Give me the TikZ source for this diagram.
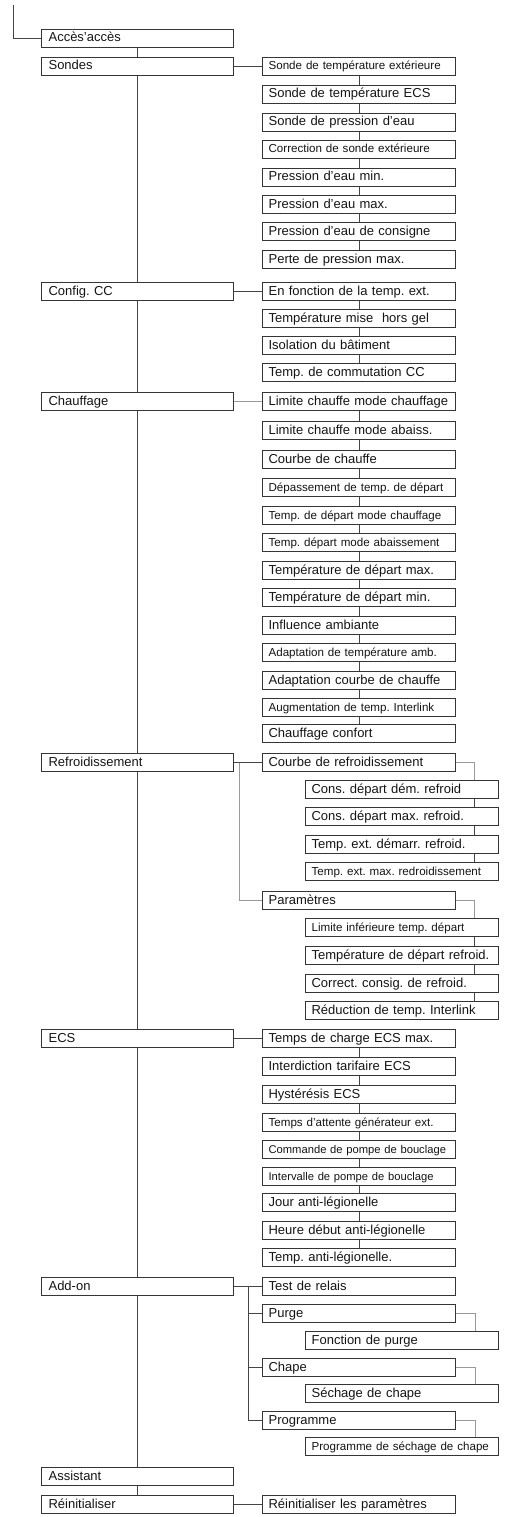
\documentclass[tikz,border=0pt]{standalone}
\usepackage{fontspec}
\setmainfont{Liberation Sans}
\usetikzlibrary{calc}
\definecolor{boxgray}{HTML}{353535}
\definecolor{linkgray}{HTML}{454545}
\definecolor{paleline}{HTML}{999999}
\definecolor{textgray}{HTML}{141414}
\frenchspacing

\begin{document}
\begin{tikzpicture}[x=1pt,y=-1pt,
  menubox/.style={draw=boxgray, line width=1.2pt, anchor=north west, minimum height=18pt,
    inner ysep=0pt, text height=9.6pt, text depth=2.8pt, align=left, text=textgray,
    font=\fontsize{13}{13}\selectfont},
  lbox/.style={menubox, inner xsep=7pt, text width=178pt},
  rbox/.style={menubox, inner xsep=6pt, text width=181pt},
  sbox/.style={rbox, font=\fontsize{11.6}{12}\selectfont},
  xsbox/.style={rbox, font=\fontsize{11.2}{12}\selectfont},
  link/.style={draw=linkgray, line width=0.9pt},
  pale/.style={draw=paleline, line width=0.9pt}]
\useasboundingbox (0,0) rectangle (506,1517);
% main menu
\foreach \y/\n/\l in {29/acces/Accès'accès, 57/sondes/Sondes, 282/config/Config. CC, 392/chauffage/Chauffage,
  753/refroid/Refroidissement, 1029/ecs/ECS, 1277/addon/Add-on, 1467/assistant/Assistant, 1495/reinit/Réinitialiser}
  \node[lbox] (\n) at (41,\y) {\l};
% sondes
\foreach \y/\s/\l [count=\i] in {57/sbox/Sonde de température extérieure, 85/rbox/Sonde de température ECS,
  113/rbox/Sonde de pression d'eau, 140/sbox/Correction de sonde extérieure, 168/rbox/Pression d'eau min.,
  195/rbox/Pression d'eau max., 222/rbox/Pression d'eau de consigne, 250/rbox/Perte de pression max.}
  \node[\s] (so\i) at (262,\y) {\l};
% config CC
\foreach \y/\l [count=\i] in {282/En fonction de la temp. ext., 309/Température mise~ hors gel,
  336/Isolation du bâtiment, 363/Temp. de commutation CC}
  \node[rbox] (cf\i) at (262,\y) {\l};
% chauffage
\foreach \y/\s/\l [count=\i] in {392/rbox/Limite chauffe mode chauffage, 421/rbox/Limite chauffe mode abaiss.,
  450/rbox/Courbe de chauffe, 478/sbox/Dépassement de temp. de départ, 506/sbox/Temp. de départ mode chauffage,
  533/sbox/Temp. départ mode abaissement, 561/rbox/Température de départ max., 588/rbox/Température de départ min.,
  616/rbox/Influence ambiante, 643/sbox/Adaptation de température amb., 671/rbox/Adaptation courbe de chauffe,
  698/sbox/Augmentation de temp. Interlink, 724/rbox/Chauffage confort}
  \node[\s] (ch\i) at (262,\y) {\l};
% refroidissement
\node[rbox] (courbe) at (262,753) {Courbe de refroidissement};
\foreach \y/\s/\l [count=\i] in {780/rbox/Cons. départ dém. refroid, 807/rbox/Cons. départ max. refroid.,
  835/rbox/Temp. ext. démarr. refroid., 862/sbox/Temp. ext. max. redroidissement}
  \node[\s] (cr\i) at (305,\y) {\l};
\node[rbox] (param) at (262,891) {Paramètres};
\foreach \y/\s/\l [count=\i] in {918/sbox/Limite inférieure temp. départ, 946/rbox/Température de départ refroid.,
  974/rbox/Correct. consig. de refroid., 1001/rbox/Réduction de temp. Interlink}
  \node[\s] (pa\i) at (305,\y) {\l};
% ECS
\foreach \y/\s/\l [count=\i] in {1029/rbox/Temps de charge ECS max., 1057/rbox/Interdiction tarifaire ECS,
  1085/rbox/Hystérésis ECS, 1113/sbox/Temps d'attente générateur ext., 1140/xsbox/Commande de pompe de bouclage,
  1167/xsbox/Intervalle de pompe de bouclage, 1193/rbox/Jour anti-légionelle, 1221/rbox/Heure début anti-légionelle,
  1248/rbox/Temp. anti-légionelle.}
  \node[\s] (ec\i) at (262,\y) {\l};
% add-on
\node[rbox] (test) at (262,1277) {Test de relais};
\node[rbox] (purge) at (262,1304) {Purge};
\node[rbox] (fpurge) at (305,1331) {Fonction de purge};
\node[rbox] (chape) at (262,1358) {Chape};
\node[rbox] (schape) at (305,1384) {Séchage de chape};
\node[rbox] (prog) at (262,1411) {Programme};
\node[sbox] (sprog) at (305,1437) {Programme de séchage de chape};
% reinitialiser
\node[rbox] (rp) at (262,1495) {Réinitialiser les paramètres};

% trunk
\coordinate (root) at (13,5);
\draw[link] (root) |- (acces.west);
\foreach \a/\b in {acces/sondes, sondes/config, config/chauffage, chauffage/refroid, refroid/ecs, ecs/addon,
  addon/assistant, assistant/reinit}
  \draw[link] (\a.south) -- (\b.north);
% chains
\foreach \i [evaluate=\i as \j using int(\i+1)] in {1,...,7} \draw[link] (so\i.south) -- (so\j.north);
\foreach \i [evaluate=\i as \j using int(\i+1)] in {1,2,3} \draw[link] (cf\i.south) -- (cf\j.north);
\foreach \i [evaluate=\i as \j using int(\i+1)] in {1,...,12} \draw[link] (ch\i.south) -- (ch\j.north);
\foreach \i [evaluate=\i as \j using int(\i+1)] in {1,...,8} \draw[link] (ec\i.south) -- (ec\j.north);
\foreach \i [evaluate=\i as \j using int(\i+1)] in {1,2,3} {
  \draw[link] ([xshift=-25pt]cr\i.south east) -- ([xshift=-25pt]cr\j.north east);
  \draw[link] ([xshift=-25pt]pa\i.south east) -- ([xshift=-25pt]pa\j.north east);
}
% branches
\draw[link] (sondes.east) -- (so1.west);
\draw[link] (config.east) -- (cf1.west);
\draw[pale] (chauffage.east) -- (ch1.west);
\draw[link] (refroid.east) -- (courbe.west);
\coordinate (rj) at ($(refroid.east)!.2!(courbe.west)$);
\draw[pale] (rj) |- (param.west);
\draw[pale] (courbe.east) -| ([xshift=-25pt]cr1.north east);
\draw[pale] (param.east) -| ([xshift=-25pt]pa1.north east);
\draw[link] (ecs.east) -- (ec1.west);
\draw[link] (addon.east) -- (test.west);
\coordinate (aj) at ($(addon.east)!.52!(test.west)$);
\draw[link] (aj) |- (purge.west) (aj) |- (chape.west) (aj) |- (prog.west);
\draw[pale] (purge.east) -| ([xshift=-24pt]fpurge.north east);
\draw[pale] (chape.east) -| ([xshift=-24pt]schape.north east);
\draw[pale] (prog.east) -| ([xshift=-24pt]sprog.north east);
\draw[link] (reinit.east) -- (rp.west);
\end{tikzpicture}
\end{document}
